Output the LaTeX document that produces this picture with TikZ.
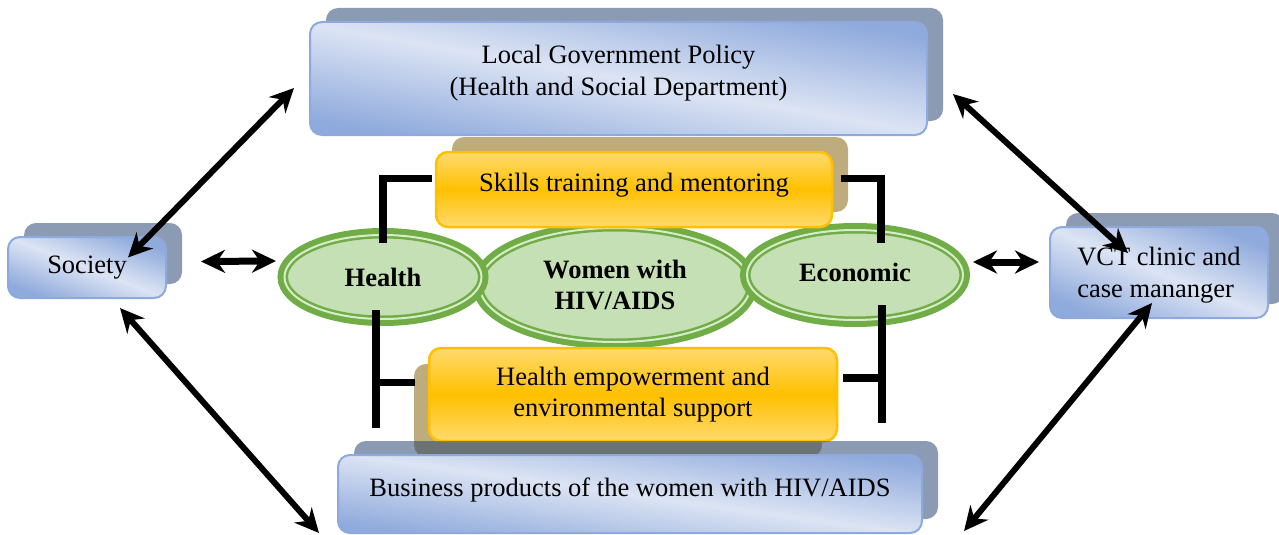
\documentclass[tikz,border=0pt]{standalone}
\usepackage{fontspec}
\setmainfont{Liberation Serif}
\usetikzlibrary{arrows.meta,shapes.geometric,shadows}

\definecolor{boxlight}{RGB}{220,228,244}
\definecolor{boxdark}{RGB}{143,170,220}
\definecolor{boxline}{RGB}{142,169,219}
\definecolor{boxshade}{RGB}{34,63,111}
\definecolor{pillline}{RGB}{255,192,0}
\definecolor{pilllight}{RGB}{255,218,110}
\definecolor{pillshade}{RGB}{190,172,124}
\definecolor{ringgreen}{RGB}{112,173,71}
\definecolor{ringfill}{RGB}{197,224,180}
\definecolor{ringlight}{RGB}{216,236,203}

\newcommand{\labelfont}{\fontsize{26.5pt}{31.5pt}\selectfont}

\begin{document}
\begin{tikzpicture}[
    x=1pt, y=-1pt,
    box/.style={rectangle, rounded corners=12pt, draw=boxline, line width=2pt, outer sep=0pt,
        top color=boxdark, bottom color=boxdark, middle color=boxlight, shading angle=-10,
        inner sep=0pt, align=center, font=\labelfont,
        drop shadow={shadow xshift=16pt, shadow yshift=14pt, fill=boxshade, opacity=.52}},
    pill/.style 2 args={rectangle, rounded corners=12pt, draw=pillline, line width=2.5pt, outer sep=0pt,
        top color=pilllight, bottom color=pilllight, middle color=pillline,
        inner sep=0pt, align=center, font=\labelfont,
        drop shadow={shadow xshift=#1, shadow yshift=#2, fill=pillshade, opacity=1}},
    ring/.style={ellipse, draw=ringgreen, line width=14pt, fill=ringfill, outer sep=0pt,
        postaction={fill=ringfill},
        postaction={draw=ringgreen, line width=7pt},
        postaction={draw=ringlight, line width=2pt},
        inner sep=0pt, align=center, font=\labelfont\bfseries},
    arrow/.style={>={Stealth[length=24pt,width=23pt]}, <->, line width=6pt},
    bar/.style={line width=7.5pt}
]
    \useasboundingbox (0,0) rectangle (1279,535);

    % Policy level
    \node[box, minimum width=617pt, minimum height=113pt, text depth=16pt] (policy) at (618.5,78.5)
        {Local Government Policy\\(Health and Social Department)};

    % Core: the women and the two sides of support
    \node[ring, minimum width=271pt, minimum height=114pt] (women) at (615,285) {Women with\\HIV/AIDS};
    \node[ring, minimum width=197pt, minimum height=84pt] (health) at (383,277) {Health};
    \node[ring, minimum width=216pt, minimum height=90pt, text depth=6pt] (economic) at (855,275) {Economic};

    % Programmes
    \node[pill={16pt}{15pt}, minimum width=396pt, minimum height=75pt, text depth=14pt] (skills) at (634,189.5)
        {Skills training and mentoring};
    \node[pill={-15pt}{-16pt}, minimum width=408pt, minimum height=93pt] (support) at (633,394.5)
        {Health empowerment and\\environmental support};

    % Outcome and partners
    \node[box, minimum width=584pt, minimum height=78pt, text depth=14pt, shading angle=-8] (business) at (630,494)
        {Business products of the women with HIV/AIDS};
    \node[box, minimum width=158pt, minimum height=61pt, shading angle=-21] (society) at (87,267.5) {Society};
    \node[box, minimum width=218pt, minimum height=91pt, align=left, text depth=0pt, shading angle=-22] (vct) at (1159,272.5)
        {VCT clinic and\\case mananger};

    % Arrows
    \draw[arrow] ([xshift=41pt,yshift=10pt]society.center) -- ([xshift=-16pt,yshift=-9.5pt]policy.west);
    \draw[arrow] ([xshift=26pt,yshift=-15.5pt]policy.east) -- ([xshift=-31pt,yshift=19.5pt]vct.center);
    \draw[arrow] ([xshift=33pt,yshift=-10pt]society.south) -- ([xshift=-19pt,yshift=-39pt]business.west);
    \draw[arrow] ([xshift=-7pt,yshift=15pt]vct.south) -- ([xshift=42pt,yshift=-37pt]business.east);
    \draw[arrow, line width=7pt] ([xshift=35pt,yshift=6pt]society.east) -- ([xshift=-8.5pt,yshift=16pt]health.west);
    \draw[arrow, line width=7pt] ([xshift=10pt,yshift=13pt]economic.east) -- ([xshift=-11pt,yshift=10.5pt]vct.west);

    % Brackets
    \coordinate (hfoot) at (376,428);
    \coordinate (efoot) at (882,423);
    \draw[bar] ([yshift=-8pt]health.north) |- ([xshift=-4pt,yshift=11pt]skills.west);
    \draw[bar] ([xshift=9pt,yshift=11pt]skills.east) -| ([xshift=26pt,yshift=-13pt]economic.north);
    \draw[bar] ([xshift=-7pt,yshift=9pt]health.south) -- (hfoot);
    \draw[bar] ([xshift=-14pt,yshift=12pt]support.west) -| (hfoot);
    \draw[bar] ([xshift=27pt,yshift=15pt]economic.south) -- (efoot);
    \draw[bar] ([xshift=6pt,yshift=16.5pt]support.east) -| (efoot);
\end{tikzpicture}
\end{document}
